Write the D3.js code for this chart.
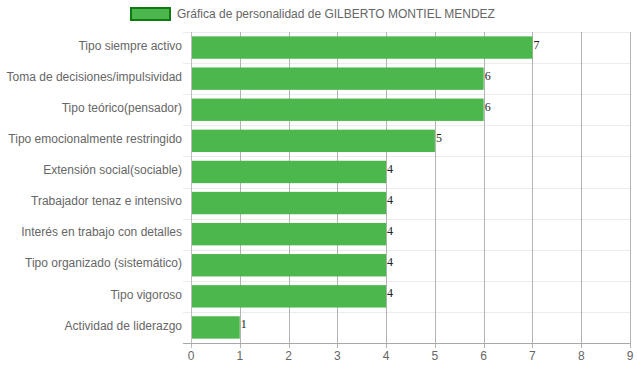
<!DOCTYPE html>
<html>
<head>
<meta charset="utf-8">
<script src="https://cdn.jsdelivr.net/npm/d3@7/dist/d3.min.js"></script>
<style>
  body { margin: 0; background: #fff; }
  text { font-family: "Liberation Sans", Arial, sans-serif; }
  text.val { font-family: "Liberation Serif", "Times New Roman", serif; }
</style>
</head>
<body>
<div id="chart"></div>
<script>
// data
var categories = [
  "Tipo siempre activo",
  "Toma de decisiones/impulsividad",
  "Tipo teórico(pensador)",
  "Tipo emocionalmente restringido",
  "Extensión social(sociable)",
  "Trabajador tenaz e intensivo",
  "Interés en trabajo con detalles",
  "Tipo organizado (sistemático)",
  "Tipo vigoroso",
  "Actividad de liderazgo"
];
var values = [7, 6, 6, 5, 4, 4, 4, 4, 4, 1];
var xTicks = [0, 1, 2, 3, 4, 5, 6, 7, 8, 9];
var legendLabel = "Gráfica de personalidad de GILBERTO MONTIEL MENDEZ";

var W = 637, H = 371;
var margin = {top: 32, right: 7, bottom: 28, left: 191};

var svg = d3.select("#chart").append("svg")
    .attr("width", W)
    .attr("height", H);

var x = d3.scaleLinear()
    .domain([0, 9])
    .range([margin.left, W - margin.right]);

var y = d3.scaleBand()
    .domain(categories)
    .range([margin.top, H - margin.bottom]);

var barH = y.bandwidth() * 0.72;

// horizontal grid lines between categories
svg.append("g").selectAll("line")
    .data(d3.range(categories.length + 1))
    .enter().append("line")
    .attr("x1", margin.left - 8)
    .attr("x2", W - margin.right)
    .attr("y1", function(i) { return Math.round(margin.top + i * y.step()) + 0.5; })
    .attr("y2", function(i) { return Math.round(margin.top + i * y.step()) + 0.5; })
    .attr("stroke", "#ececec")
    .attr("stroke-width", 1);

// vertical grid lines
svg.append("g").selectAll("line")
    .data(xTicks)
    .enter().append("line")
    .attr("x1", function(d) { return Math.round(x(d)) + 0.5; })
    .attr("x2", function(d) { return Math.round(x(d)) + 0.5; })
    .attr("y1", margin.top)
    .attr("y2", H - margin.bottom + 5)
    .attr("stroke", function(d) { return d == 0 ? "#bdbdbd" : "#b3b3b3"; })
    .attr("stroke-width", 1);

// bars
svg.append("g").selectAll("rect")
    .data(values)
    .enter().append("rect")
    .attr("x", x(0) + 1)
    .attr("y", function(d, i) { return y(categories[i]) + (y.bandwidth() - barH) / 2; })
    .attr("width", function(d) { return x(d) - x(0) - 1; })
    .attr("height", barH)
    .attr("fill", "#4cb74c");

// value labels
svg.append("g").selectAll("text")
    .data(values)
    .enter().append("text")
    .attr("class", "val")
    .attr("x", function(d) { return x(d) + 1; })
    .attr("y", function(d, i) { return y(categories[i]) + y.bandwidth() / 2 + 1; })
    .attr("font-size", "12px")
    .attr("fill", "#222")
    .text(function(d) { return d; });

// bottom axis line
svg.append("line")
    .attr("x1", margin.left - 8)
    .attr("x2", W - margin.right)
    .attr("y1", H - margin.bottom + 0.5)
    .attr("y2", H - margin.bottom + 0.5)
    .attr("stroke", "#a8a8a8");

// x tick labels
svg.append("g").selectAll("text")
    .data(xTicks)
    .enter().append("text")
    .attr("x", function(d) { return x(d); })
    .attr("y", H - margin.bottom + 17)
    .attr("text-anchor", "middle")
    .attr("font-size", "12px")
    .attr("fill", "#666")
    .text(function(d) { return d; });

// category labels
svg.append("g").selectAll("text")
    .data(categories)
    .enter().append("text")
    .attr("x", margin.left - 9)
    .attr("y", function(d) { return y(d) + y.bandwidth() / 2 - 2; })
    .attr("dy", "0.35em")
    .attr("text-anchor", "end")
    .attr("font-size", "12px")
    .attr("fill", "#666")
    .text(function(d) { return d; });

// legend
var legend = svg.append("g");
legend.append("rect")
    .attr("x", 131)
    .attr("y", 8)
    .attr("width", 39)
    .attr("height", 12)
    .attr("fill", "#4cb74c")
    .attr("stroke", "#0f7a0f")
    .attr("stroke-width", 2);
legend.append("text")
    .attr("x", 177)
    .attr("y", 18)
    .attr("font-size", "12px")
    .attr("fill", "#666")
    .text(legendLabel);
</script>
</body>
</html>
